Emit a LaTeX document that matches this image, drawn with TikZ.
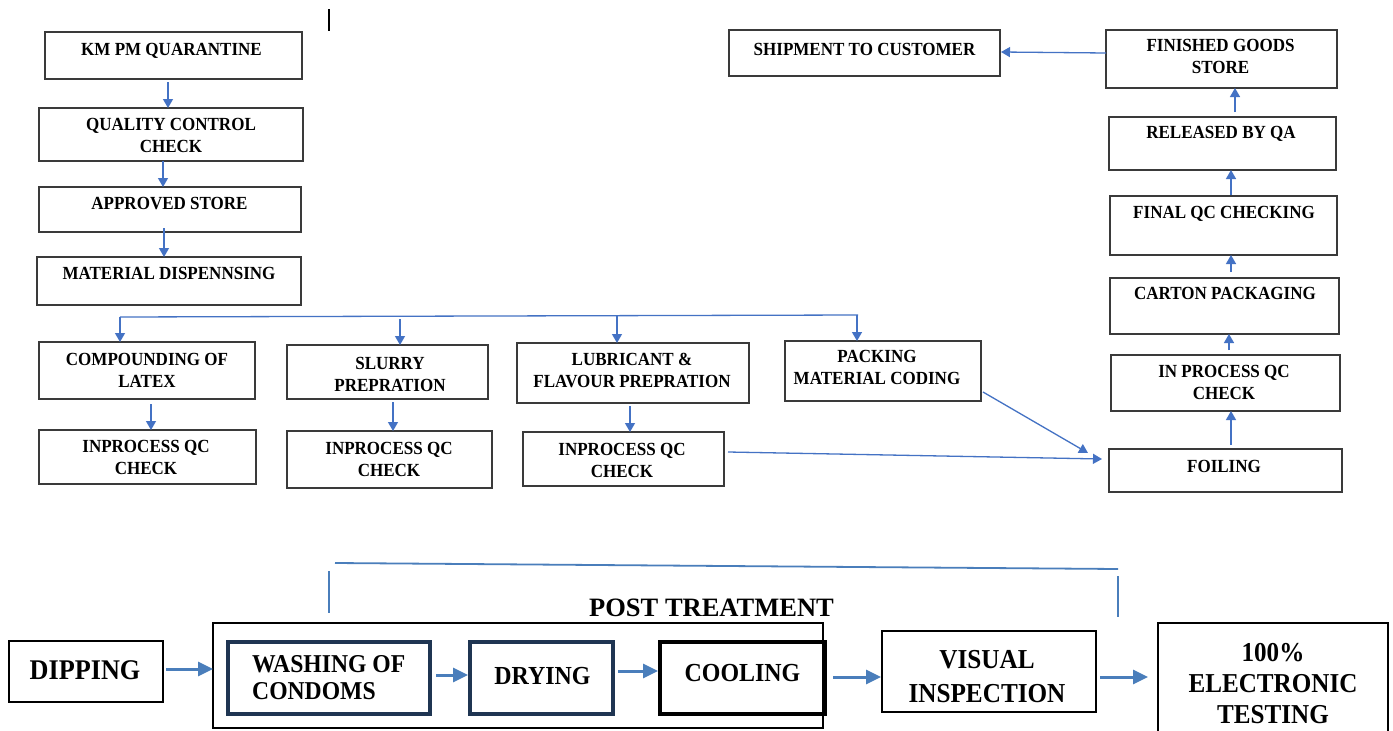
\documentclass[tikz,border=0pt]{standalone}
\usepackage{fontspec}
\setmainfont{Liberation Serif}
\newfontfamily\cf{Liberation Serif}[FakeStretch=0.92]
\usetikzlibrary{arrows.meta,calc}
\definecolor{arblue}{HTML}{4472C4}
\definecolor{arblue2}{HTML}{4A7EBB}
\definecolor{navyb}{HTML}{1F3552}
\definecolor{boxgray}{HTML}{3A3A3A}
\newcommand\mkbx[8]{%
  \node[bx, minimum width={#4-#2}, minimum height={#5-#3}] (#1) at ({(#2+#4)/2},{(#3+#5)/2}) {};
  \node[tl, anchor=north] (#1t) at (#6,#7) {#8};
}
\tikzset{
  bx/.style={draw=boxgray, line width=1.3pt, inner sep=0pt, outer sep=0pt},
  tl/.style={font={\cf\bfseries\fontsize{18.5}{22}\selectfont}, align=center, inner sep=0pt},
  ar/.style={draw=arblue, line width=1.3pt, -{Triangle[length=9pt,width=10pt]}},
  ln/.style={draw=arblue, line width=1.3pt},
  bbx/.style={draw=black, line width=2pt, inner sep=0pt, outer sep=0pt},
  nbx/.style={draw=navyb, line width=4pt, inner sep=0pt, outer sep=0pt},
  kbx/.style={draw=black, line width=4pt, inner sep=0pt, outer sep=0pt},
  bt/.style={align=center, inner sep=0pt},
  bar/.style={draw=arblue2, line width=3pt, -{Triangle[length=15pt,width=14pt]}},
  brk/.style={draw=arblue2, line width=1.8pt},
}
\begin{document}
\begin{tikzpicture}[x=1pt,y=-1pt]
\useasboundingbox (0,0) rectangle (1393,731);
\fill[white] (0,0) rectangle (1393,731);
% stray mark
\coordinate (m1) at (329,9);
\coordinate (m2) at (329,31);
\draw[black, line width=1.2pt] (m1) -- (m2);
% top left column
\mkbx{km}{45}{32}{302}{79}{171.5}{43}{KM PM QUARANTINE}
\mkbx{qc}{39}{108}{303}{161}{171}{118}{QUALITY CONTROL\\CHECK}
\mkbx{ap}{39}{187}{301}{232}{169.5}{197}{APPROVED STORE}
\mkbx{md}{37}{257}{301}{305}{169}{267}{MATERIAL DISPENNSING}
% branches
\mkbx{cp}{39}{342}{255}{399}{147}{353}{COMPOUNDING OF\\LATEX}
\mkbx{sl}{287}{345}{488}{399}{390}{357}{SLURRY\\PREPRATION}
\mkbx{lu}{517}{343}{749}{403}{632}{353}{LUBRICANT \&\\FLAVOUR PREPRATION}
\mkbx{pk}{785}{341}{981}{401}{877}{350}{PACKING\\MATERIAL CODING}
\mkbx{ia}{39}{430}{256}{484}{146}{440}{INPROCESS QC\\CHECK}
\mkbx{ib}{287}{431}{492}{488}{389}{442}{INPROCESS QC\\CHECK}
\mkbx{ic}{523}{432}{724}{486}{622}{443}{INPROCESS QC\\CHECK}
% right column
\mkbx{fo}{1109}{449}{1342}{492}{1224}{460}{FOILING}
\mkbx{ip}{1111}{355}{1340}{411}{1224}{365}{IN PROCESS QC\\CHECK}
\mkbx{ca}{1110}{278}{1339}{334}{1225}{287}{CARTON PACKAGING}
\mkbx{fq}{1110}{196}{1337}{255}{1224}{206}{FINAL QC CHECKING}
\mkbx{rq}{1109}{117}{1336}{170}{1221}{126}{RELEASED BY QA}
\mkbx{fg}{1106}{30}{1337}{88}{1220.5}{39}{FINISHED GOODS\\STORE}
\mkbx{sh}{729}{30}{1000}{76}{864.5}{43}{SHIPMENT TO CUSTOMER}
% top arrows
\draw[ar] ($(km.south)+(-5.5,3)$) -- ($(qc.north)+(-3,0)$);
\draw[ar] ($(qc.south)+(-8,0)$) -- ($(ap.north)+(-7,0)$);
\draw[ar] ($(ap.south)+(-6,-4)$) -- ($(md.north)+(-5,0)$);
\coordinate (br1) at (120,317);
\coordinate (br2) at (400,316.3);
\coordinate (br3) at (617,315.6);
\coordinate (br4) at (858,315);
\draw[ln] (br1) -- (br4);
\draw[ar] (br1) -- ($(cp.north)+(-27,0)$);
\draw[ar] ($(br2)+(0,3)$) -- ($(sl.north)+(12.5,0)$);
\draw[ar] (br3) -- ($(lu.north)+(-16,0)$);
\draw[ar] ($(br4)+(-1,0)$) -- ($(pk.north)+(-26,0)$);
\draw[ar] ($(cp.south)+(4,5)$) -- ($(ia.north)+(3.5,0)$);
\draw[ar] ($(sl.south)+(5.5,3)$) -- ($(ib.north)+(3.5,0)$);
\draw[ar] ($(lu.south)+(-3,3)$) -- ($(ic.north)+(6.5,0)$);
\draw[ar] ($(ic.east)+(4,-7)$) -- ($(fo.west)+(-7,-11.5)$);
\draw[ar] ($(pk.east)+(2,21)$) -- ($(fo.west)+(-21,-17.5)$);
\draw[ar] ($(fo.north)+(5.5,-4)$) -- ($(ip.south)+(5.5,0)$);
\draw[ar] ($(ip.north)+(3.5,-5)$) -- ($(ca.south)+(4.5,0)$);
\draw[ar] ($(ca.north)+(6.5,-6)$) -- ($(fq.south)+(7.5,0)$);
\draw[ar] ($(fq.north)+(7.5,-1)$) -- ($(rq.south)+(8.5,0)$);
\draw[ar] ($(rq.north)+(12.5,-5)$) -- ($(fg.south)+(13.5,0)$);
\draw[ar] ($(fg.west)+(0,-6)$) -- ($(sh.east)+(1,-1)$);
% bottom bracket
\coordinate (k1) at (335,563);
\coordinate (k2) at (1118,569);
\coordinate (k3) at (329,571);
\coordinate (k4) at (329,613);
\coordinate (k5) at (1118,576);
\coordinate (k6) at (1118,617);
\draw[brk] (k1) -- (k2);
\draw[brk] (k3) -- (k4);
\draw[brk] (k5) -- (k6);
\node[bt, anchor=north, font={\bfseries\fontsize{26.5}{28}\selectfont}] (ptl) at (711.5,599) {POST TREATMENT};
% bottom boxes
\node[bbx, minimum width=154, minimum height=61] (dip) at (86,671.5) {};
\node[bt, anchor=north, font={\cf\bfseries\fontsize{28.5}{30}\selectfont}] (dipt) at (85,660) {DIPPING};
\node[bbx, minimum width=610, minimum height=105] (post) at (518,675.5) {};
\node[nbx, minimum width=202, minimum height=72] (wa) at (329,678) {};
\node[bt, align=left, anchor=north west, font={\cf\bfseries\fontsize{25.7}{27}\selectfont}] (wat) at (252,655) {WASHING OF\\CONDOMS};
\node[nbx, minimum width=143, minimum height=72] (dr) at (541.5,678) {};
\node[bt, anchor=north, font={\cf\bfseries\fontsize{26}{27}\selectfont}] (drt) at (542.5,667) {DRYING};
\node[kbx, minimum width=165, minimum height=72] (co) at (742.5,678) {};
\node[bt, anchor=north, font={\cf\bfseries\fontsize{26}{27}\selectfont}] (cot) at (742.5,664) {COOLING};
\node[bbx, minimum width=214, minimum height=81] (vi) at (989,671.5) {};
\node[bt, anchor=north, font={\cf\bfseries\fontsize{27.4}{34}\selectfont}] (vit) at (987,650) {VISUAL\\INSPECTION};
\node[bbx, minimum width=230, minimum height=122] (te) at (1273,684) {};
\node[bt, anchor=north, font={\cf\bfseries\fontsize{27.3}{31}\selectfont}] (tet) at (1273,643) {100\%\\ELECTRONIC\\TESTING};
% bottom arrows
\draw[bar] ($(dip.east)+(3,-2.5)$) -- ($(post.west)+(0,-6.5)$);
\draw[bar] ($(wa.east)+(6,-3)$) -- ($(dr.west)+(-2,-3)$);
\draw[bar] ($(dr.east)+(5,-7)$) -- ($(co.west)+(-2,-7)$);
\draw[bar] ($(co.east)+(8,-1)$) -- ($(vi.west)+(-1,5.5)$);
\draw[bar] ($(vi.east)+(4,5.5)$) -- ($(te.west)+(-10,-7)$);
\end{tikzpicture}
\end{document}
